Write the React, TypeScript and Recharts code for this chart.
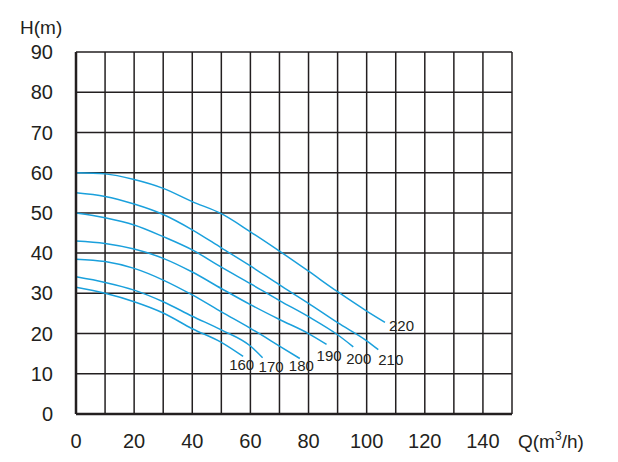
import { LineChart, Line, XAxis, YAxis, CartesianGrid } from 'recharts'

// axis ticks
const xTicks = [0, 10, 20, 30, 40, 50, 60, 70, 80, 90, 100, 110, 120, 130, 140, 150]
const xLabelTicks = [0, 20, 40, 60, 80, 100, 120, 140]
const yTicks = [0, 10, 20, 30, 40, 50, 60, 70, 80, 90]

// impeller diameters (curve labels)
const diameters = ['160', '170', '180', '190', '200', '210', '220']

// Q (m3/h) and H (m)
const q160 = [0, 10, 20, 30, 40, 50, 57.5]
const h160 = [31.5, 30.0, 27.9, 25.1, 21.2, 17.8, 14.3]

const q170 = [0, 10, 20, 30, 40, 50, 60, 64.2]
const h170 = [34.1, 32.7, 30.8, 27.9, 24.3, 20.9, 16.9, 14.0]

const q180 = [0, 10, 20, 30, 40, 50, 60, 70, 77]
const h180 = [38.5, 37.9, 36.2, 33.3, 29.6, 25.4, 21.3, 16.9, 13.8]

const q190 = [0, 10, 20, 30, 40, 50, 60, 70, 80, 86.2]
const h190 = [43.0, 42.4, 41.0, 38.7, 35.3, 31.2, 27.2, 23.5, 20.0, 17.3]

const q200 = [0, 10, 20, 30, 40, 50, 60, 70, 80, 90, 95.4]
const h200 = [50.0, 48.8, 47.0, 44.1, 40.8, 36.5, 32.4, 28.2, 24.2, 19.7, 16.7]

const q210 = [0, 10, 20, 30, 40, 50, 60, 70, 80, 90, 100, 104]
const h210 = [55.0, 54.1, 52.2, 49.6, 45.8, 41.3, 36.8, 32.1, 27.5, 22.7, 18.2, 16.0]

const q220 = [0, 10, 20, 30, 40, 50, 60, 70, 80, 90, 100, 106.3]
const h220 = [60.0, 59.7, 58.3, 56.1, 52.8, 49.8, 45.3, 40.5, 35.5, 30.4, 25.6, 22.8]

const qs = [q160, q170, q180, q190, q200, q210, q220]
const hs = [h160, h170, h180, h190, h200, h210, h220]

// label placement relative to each curve's end point
const labelDx = [-14, -4, -11, -10, -7, 0, 4]
const labelDy = [8.5, 9, 7.5, 11.5, 11.5, 10, 3.5]

const FONT = '"Liberation Sans", Arial, Helvetica, sans-serif'
const INK = '#231f20'
const BLUE = '#1aa0dc'

const series = diameters.map((name, i) => ({
  name,
  data: qs[i].map((q, j) => ({ q, h: hs[i][j] })),
}))

function endLabel(i: number, last: number) {
  return (props: any) => {
    if (props.index !== last) return <g />
    return (
      <text
        x={props.x + labelDx[i]}
        y={props.y + labelDy[i]}
        dominantBaseline="central"
        fontSize={15}
        fontFamily={FONT}
        fill={INK}
      >
        {diameters[i]}
      </text>
    )
  }
}

export default function App() {
  return (
    <div style={{ width: 610, height: 454 }}>
      <LineChart
        width={610}
        height={454}
        margin={{ top: 44, right: 106, left: 8, bottom: 8 }}
      >
        <CartesianGrid stroke={INK} strokeWidth={1.5} />
        <XAxis
          type="number"
          dataKey="q"
          domain={[0, 150]}
          ticks={xTicks}
          interval={0}
          height={40}
          tickSize={0}
          tickMargin={20}
          tickFormatter={(v: number) => (xLabelTicks.includes(v) ? String(v) : '')}
          tick={{ fontSize: 20, fill: INK, fontFamily: FONT }}
          axisLine={{ stroke: INK, strokeWidth: 2.5 }}
          allowDataOverflow
        />
        <YAxis
          type="number"
          dataKey="h"
          domain={[0, 90]}
          ticks={yTicks}
          interval={0}
          width={60}
          tickSize={0}
          tickMargin={23}
          tick={{ fontSize: 20, fill: INK, fontFamily: FONT }}
          axisLine={{ stroke: INK, strokeWidth: 2.5 }}
        />
        {series.map((s, i) => (
          <Line
            key={s.name}
            data={s.data}
            dataKey="h"
            type="monotone"
            stroke={BLUE}
            strokeWidth={1.5}
            dot={false}
            activeDot={false}
            isAnimationActive={false}
            label={endLabel(i, s.data.length - 1)}
          />
        ))}
        <text x={12} y={26} fontSize={19} fontFamily={FONT} fill={INK}>
          H(m)
        </text>
        <text x={510} y={440} fontSize={19} fontFamily={FONT} fill={INK}>
          Q(m
          <tspan fontSize={12} dy={-8}>
            3
          </tspan>
          <tspan dy={8}>/h)</tspan>
        </text>
      </LineChart>
    </div>
  )
}
